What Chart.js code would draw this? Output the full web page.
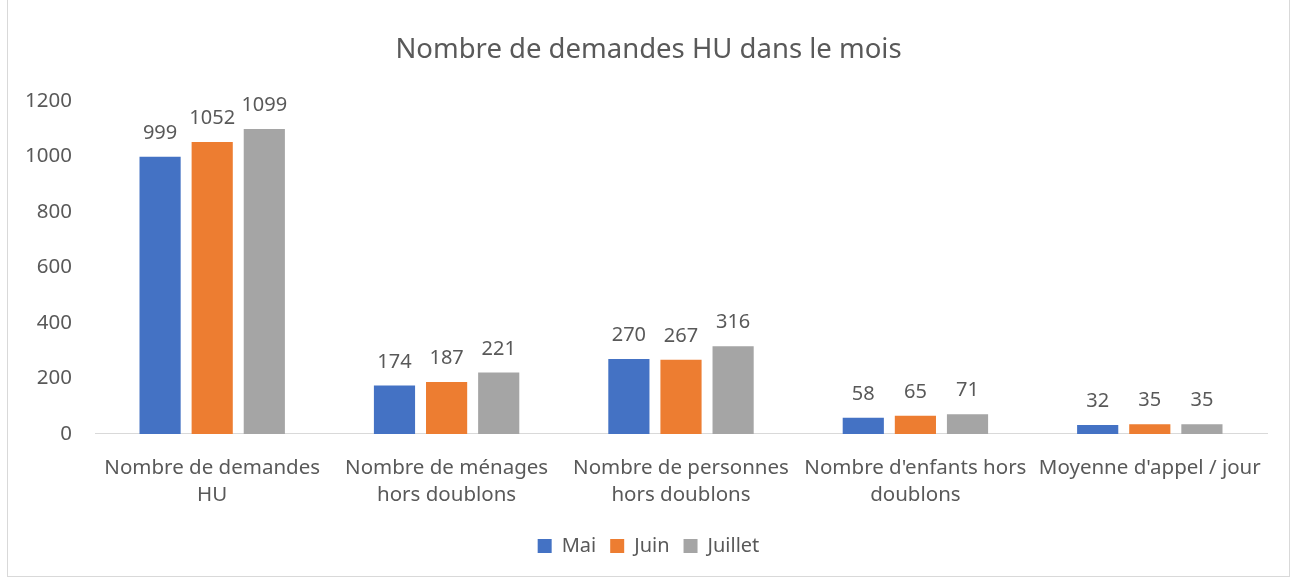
<!DOCTYPE html>
<html>
<head>
<meta charset="utf-8">
<style>
  html, body { margin: 0; padding: 0; background: #fff; }
  .frame { position: absolute; left: 7px; top: 0; width: 1283px; height: 577px; border: 1px solid #d9d9d9; border-top: none; box-sizing: border-box; }
  .chart-container { position: absolute; left: 0; top: 0; width: 1298px; height: 578px; }
</style>
</head>
<body>
<div class="frame"></div>
<div class="chart-container">
    <canvas id="myChart"></canvas>
</div>

<script src="https://cdn.jsdelivr.net/npm/chart.js@4.4.0/dist/chart.umd.min.js"></script>
<script>
    const categories = [
        ["Nombre de demandes", "HU"],
        ["Nombre de ménages", "hors doublons"],
        ["Nombre de personnes", "hors doublons"],
        ["Nombre d'enfants hors", "doublons"],
        "Moyenne d'appel / jour"
    ];
    const mai = [999, 174, 270, 58, 32];
    const juin = [1052, 187, 267, 65, 35];
    const juillet = [1099, 221, 316, 71, 35];
    const yTicks = [0, 200, 400, 600, 800, 1000, 1200];

    const textColor = '#595959';
    const fontFamily = "'Noto Sans', 'Open Sans', sans-serif";

    // value labels above each bar
    const valueLabels = {
        id: 'valueLabels',
        afterDatasetsDraw(chart) {
            const ctx = chart.ctx;
            ctx.save();
            ctx.fillStyle = textColor;
            ctx.font = '20px ' + fontFamily;
            ctx.textAlign = 'center';
            ctx.textBaseline = 'alphabetic';
            chart.data.datasets.forEach(function (ds, i) {
                chart.getDatasetMeta(i).data.forEach(function (bar, j) {
                    ctx.fillText(ds.data[j], bar.x, bar.y - 18);
                });
            });
            ctx.restore();
        }
    };

    // y axis is kept narrow so the title stays centred; widen its clip area afterwards
    const widenYAxis = {
        id: 'widenYAxis',
        afterLayout(chart) {
            chart.scales.y.left -= 25;
        }
    };

    const ctx = document.getElementById('myChart').getContext('2d');
    const myChart = new Chart(ctx, {
        type: 'bar',
        data: {
            labels: categories,
            datasets: [
                { label: 'Mai', data: mai, backgroundColor: '#4472C4' },
                { label: 'Juin', data: juin, backgroundColor: '#ED7D31' },
                { label: 'Juillet', data: juillet, backgroundColor: '#A5A5A5' }
            ]
        },
        options: {
            responsive: true,
            maintainAspectRatio: false,
            animation: false,
            categoryPercentage: 0.667,
            barPercentage: 0.79,
            layout: { padding: { left: 30, right: 31, top: 18, bottom: 12 } },
            plugins: {
                title: {
                    display: true,
                    text: 'Nombre de demandes HU dans le mois',
                    color: textColor,
                    font: { family: fontFamily, size: 27.5, weight: 'normal' },
                    padding: { top: 16, bottom: 34 }
                },
                legend: {
                    position: 'bottom',
                    labels: {
                        color: textColor,
                        font: { family: fontFamily, size: 20 },
                        boxWidth: 14,
                        boxHeight: 14,
                        padding: 14
                    }
                },
                tooltip: { enabled: false }
            },
            scales: {
                x: {
                    grid: { display: false },
                    border: { display: true, color: '#d9d9d9', width: 1 },
                    ticks: {
                        color: textColor,
                        font: { family: fontFamily, size: 20.5, lineHeight: 1.32 },
                        maxRotation: 0,
                        padding: 13
                    }
                },
                y: {
                    min: 0,
                    max: 1200,
                    afterBuildTicks: function (axis) {
                        axis.ticks = yTicks.map(function (v) { return { value: v }; });
                    },
                    afterFit: function (axis) { axis.width = 65; },
                    grid: { display: false },
                    border: { display: false },
                    ticks: {
                        color: textColor,
                        font: { family: fontFamily, size: 20.5 },
                        padding: 15,
                        callback: function (value) { return String(value); }
                    }
                }
            }
        },
        plugins: [valueLabels, widenYAxis]
    });
</script>
</body>
</html>
